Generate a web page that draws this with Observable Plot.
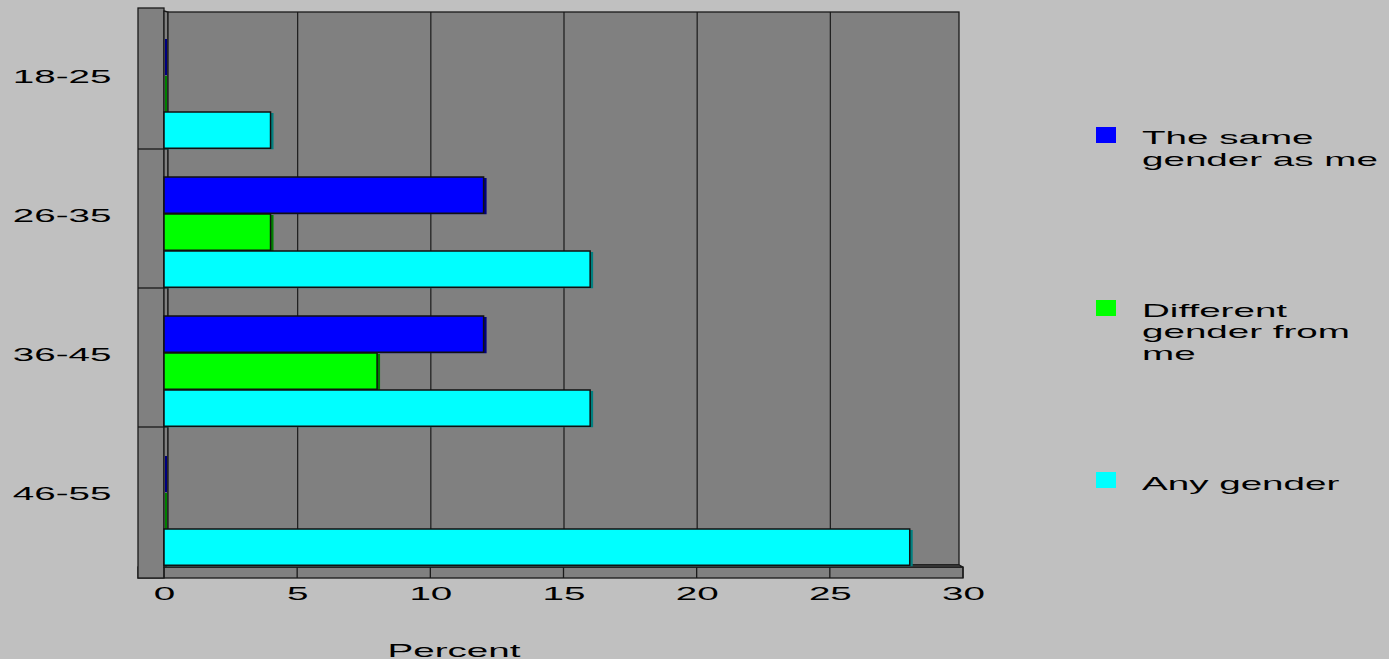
<!DOCTYPE html>
<html>
<head>
<meta charset="utf-8">
<script src="https://cdn.jsdelivr.net/npm/d3@7"></script>
<script src="https://cdn.jsdelivr.net/npm/@observablehq/plot@0.6"></script>
<style>
html, body { margin: 0; padding: 0; background: #c0c0c0; overflow: hidden; }
#wrap { position: relative; width: 1389px; height: 659px; font-family: 'Liberation Sans', Arial, sans-serif; overflow: hidden; }
#chart { position: absolute; left: 0; top: 0; }
.sw { position: absolute; left: 1096px; width: 20px; height: 16px; }
.lt { position: absolute; left: 1142px; font-size: 19px; line-height: 21.5px; color: #000;
      transform: scaleX(2.03); transform-origin: 0 0; white-space: nowrap; }
</style>
</head>
<body>
<div id="wrap"><div id="chart"></div></div>
<script>
// ---- data ----
const ageGroups = ["18-25", "26-35", "36-45", "46-55"];
const seriesNames = ["The same gender as me", "Different gender from me", "Any gender"];
const sameGender = [0, 12, 12, 0];
const differentGender = [0, 4, 8, 0];
const anyGender = [4, 16, 16, 28];
const xTicks = [0, 5, 10, 15, 20, 25, 30];
const axisTitle = "Percent";
const legendLines = [["The same", "gender as me"], ["Different", "gender from", "me"], ["Any gender"]];
const seriesColors = ["#0000ff", "#00ff00", "#00ffff"];
const sideColors = ["#000080", "#008000", "#008080"];

const seriesValues = [sameGender, differentGender, anyGender];
const rows = ageGroups.flatMap((age, i) =>
  seriesNames.map((series, j) => ({age, series, value: seriesValues[j][i]})));

// ---- layout / style ----
const W = 1389, H = 659;
const mL = 164, mR = 426, mT = 8, mB = 92;
const bandH = (H - mT - mB) / ageGroups.length;
const barOffset = 28, barH = 37;
const wallGray = "#808080", lineCol = "#1a1a1a";
const stretch = 2.03;

function walls(index, scales, values, dims) {
  const x = scales.x, y = scales.y;
  const top = dims.marginTop, bottom = dims.height - dims.marginBottom;
  const x0 = x(0), x1 = x(30);
  const depth = 4, wall = 26, floorH = 11;
  const g = d3.create("svg:g").attr("stroke", lineCol).attr("stroke-width", 1.3).attr("fill", wallGray);
  // floor front
  g.append("rect").attr("x", x0 - wall).attr("y", bottom).attr("width", x1 - x0 + wall).attr("height", floorH);
  // left wall
  g.append("rect").attr("x", x0 - wall).attr("y", top).attr("width", wall).attr("height", bottom + floorH - top);
  // strip between left wall and back wall
  g.append("path").attr("d", `M${x0},${top + 3}L${x0 + depth},${top + depth}L${x0 + depth},${bottom - 2}L${x0},${bottom}Z`);
  // back wall
  g.append("rect").attr("x", x0 + depth).attr("y", top + depth)
    .attr("width", x1 - x0 - 2 * depth).attr("height", bottom - 2 - top - depth);
  // floor top face
  g.append("path").attr("d", `M${x0 + depth},${bottom - 2}L${x1 - depth},${bottom - 2}L${x1},${bottom}L${x0},${bottom}Z`);
  // floor ticks
  for (const t of xTicks) {
    g.append("line").attr("x1", x(t)).attr("x2", x(t)).attr("y1", bottom).attr("y2", bottom + floorH);
  }
  // category dividers on the side wall
  for (const c of ageGroups.slice(1)) {
    const yy = y(c);
    g.append("line").attr("x1", x0 - wall).attr("x2", x0 + depth).attr("y1", yy).attr("y2", yy);
  }
  return g.node();
}

const marks = [
  walls,
  Plot.ruleX(xTicks.slice(1, -1), {x: d => d, stroke: lineCol, strokeWidth: 1.2, insetTop: 4, insetBottom: 2})
];

seriesNames.forEach((s, j) => {
  const data = rows.filter(r => r.series === s);
  const insetTop = barOffset + barH * j;
  const insetBottom = bandH - barOffset - barH * (j + 1);
  marks.push(Plot.barX(data, {y: "age", x: "value", fill: sideColors[j], dx: 1, dy: 1,
    insetTop, insetBottom, insetRight: -2}));
  marks.push(Plot.barX(data, {y: "age", x: "value", fill: seriesColors[j], stroke: "#111", strokeWidth: 1.5,
    insetTop, insetBottom}));
});

marks.push(
  Plot.text(ageGroups, {y: d => d, frameAnchor: "left", textAnchor: "end", dx: -53, dy: -3, fontSize: 19, fill: "#000"}),
  Plot.text(xTicks, {x: d => d, frameAnchor: "bottom", dy: 32, fontSize: 19, fill: "#000"}),
  Plot.text([axisTitle], {text: d => d, frameAnchor: "bottom", dx: -110, dy: 89, fontSize: 19, fill: "#000"})
);

const chart = Plot.plot({
  width: W, height: H,
  marginLeft: mL, marginRight: mR, marginTop: mT, marginBottom: mB,
  x: {domain: [0, 30], axis: null},
  y: {domain: ageGroups, axis: null, padding: 0},
  style: {background: "transparent", fontFamily: "'Liberation Sans', Arial, sans-serif", fontSize: "19px", color: "#000"},
  marks
});
document.getElementById("chart").append(chart);

// widen text as in the reference
d3.select(chart).selectAll("text").each(function () {
  const L = this.getComputedTextLength();
  if (L > 0) {
    this.setAttribute("textLength", L * stretch);
    this.setAttribute("lengthAdjust", "spacingAndGlyphs");
  }
});

// legend
const wrap = document.getElementById("wrap");
const swatchTops = [127, 300, 472];
const textTops = [127.3, 299.7, 473];
seriesNames.forEach((s, j) => {
  const sw = document.createElement("div");
  sw.className = "sw";
  sw.style.top = swatchTops[j] + "px";
  sw.style.background = seriesColors[j];
  wrap.append(sw);
  const t = document.createElement("div");
  t.className = "lt";
  t.style.top = textTops[j] + "px";
  t.innerHTML = legendLines[j].join("<br>");
  wrap.append(t);
});
</script>
</body>
</html>
